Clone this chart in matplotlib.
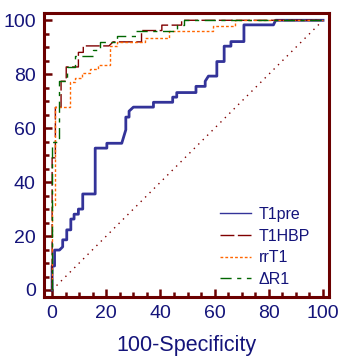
import matplotlib
matplotlib.use("Agg")
import matplotlib.pyplot as plt
from matplotlib.ticker import MultipleLocator

plt.rcParams['font.family'] = ['Liberation Sans', 'DejaVu Sans']

# ROC curves (100-specificity, sensitivity)
t1pre_x = [0, 0, 0.9, 0.9, 2.7, 3.9, 3.9, 5.4, 5.4, 6.9, 6.9, 8.1, 8.1, 9.7, 9.7, 11.3, 11.3,
           15.9, 15.9, 20.2, 20.2, 25.7, 27.2, 27.2, 28.4, 28.4, 30, 37.4, 37.4, 44.5, 44.5,
           46, 46, 53.1, 53.1, 56.5, 56.5, 57.7, 60.8, 60.8, 63.5, 63.5, 66, 66, 70.8, 70.8,
           81.7, 82.5, 100]
t1pre_y = [0, 8.9, 8.9, 14.8, 14.8, 16, 18.6, 18.6, 22.3, 22.3, 26.3, 26.3, 28.1, 28.1, 30, 30,
           35.6, 35.6, 52.6, 52.6, 54.4, 54.4, 59.4, 64.1, 64.1, 66.3, 67.8, 67.8, 69.6, 69.6,
           71.5, 71.5, 73.2, 73.2, 75.5, 75.5, 77.4, 79.3, 79.3, 84.7, 84.7, 90.4, 90.4, 92.1,
           92.1, 98.3, 98.3, 100, 100]

t1hbp_x = [0, 0, 1.2, 1.2, 3.3, 3.3, 5.2, 5.2, 9.7, 9.7, 11.5, 11.5, 21, 22.5, 33, 33, 40.5,
           40.5, 47.8, 47.8, 100]
t1hbp_y = [0, 49, 49, 67.7, 67.7, 77.4, 77.4, 82.7, 82.7, 88.1, 88.1, 90.5, 90.5, 92, 92, 96.2,
           96.2, 98.2, 98.2, 100, 100]

rrt1_x = [0, 0, 1.2, 1.2, 6.6, 6.6, 8.5, 8.5, 11, 11, 14, 14, 17, 17, 21.4, 21.4, 24, 24, 34.3,
          34.3, 43.3, 43.3, 59.3, 59.3, 67.5, 67.5, 100]
rrt1_y = [0, 31.6, 31.6, 67.8, 67.8, 77, 77, 78.5, 78.5, 80.5, 80.5, 82, 82, 83.5, 83.5, 90.5,
          90.5, 92, 92, 93.4, 93.4, 96.2, 96.2, 98, 98, 100, 100]

dr1_x = [0, 0, 2.5, 2.5, 5.4, 5.4, 8.5, 8.5, 15, 15, 17.5, 17.5, 24, 24, 31, 31, 46, 46, 48.7,
         48.7, 100]
dr1_y = [0, 54.7, 54.7, 77.4, 77.4, 82.7, 82.7, 86.8, 86.8, 88.9, 88.9, 92, 92, 94.3, 94.3,
         96.2, 96.2, 98.2, 98.2, 100, 100]

labels = ["T1pre", "T1HBP", "rrT1", "ΔR1"]
ticks = [0, 20, 40, 60, 80, 100]

maroon = "#6b0000"
navy = "#14147a"

fig = plt.figure(figsize=(3.42, 3.59), dpi=100)
ax = fig.add_axes([44 / 342, 62 / 359, 285 / 342, 284 / 359])

ax.plot([0, 100], [0, 100], color="#800000", lw=1, ls=(0, (1, 3.5)))
ax.plot(t1pre_x, t1pre_y, color="#333399", lw=2.0, label=labels[0])
ax.plot(t1hbp_x, t1hbp_y, color="#800000", lw=1, ls=(0, (10, 2.5)), label=labels[1])
ax.plot(rrt1_x, rrt1_y, color="#ff6600", lw=1, ls=(0, (2, 1.5)), label=labels[2])
ax.plot(dr1_x, dr1_y, color="#006600", lw=1, ls=(0, (8, 4, 3, 4)), label=labels[3])

ax.set_xlim(-3, 102.2)
ax.set_ylim(-2.6, 102.7)
ax.set_xticks(ticks)
ax.set_yticks(ticks)
ax.xaxis.set_minor_locator(MultipleLocator(5))
ax.yaxis.set_minor_locator(MultipleLocator(5))

for s in ax.spines.values():
    s.set_color(maroon)
    s.set_linewidth(2.2)

ax.tick_params(which="both", direction="in", color=maroon, width=1.8,
               top=False, right=False, labelcolor=navy, labelsize=14)
ax.tick_params(which="major", length=6, pad=6)
ax.tick_params(which="minor", length=3.3)

ax.set_xlabel("100-Specificity", color=navy, fontsize=15.5, labelpad=9)

leg = ax.legend(loc="center left", bbox_to_anchor=(0.618, 0.176), frameon=False,
                fontsize=11.5, handlelength=1.95, handletextpad=0.45,
                labelspacing=0.42, borderpad=0, borderaxespad=0)
for t in leg.get_texts():
    t.set_color(navy)
for h in leg.get_lines():
    h.set_linewidth(1)

fig.savefig("out.png", dpi=100)
